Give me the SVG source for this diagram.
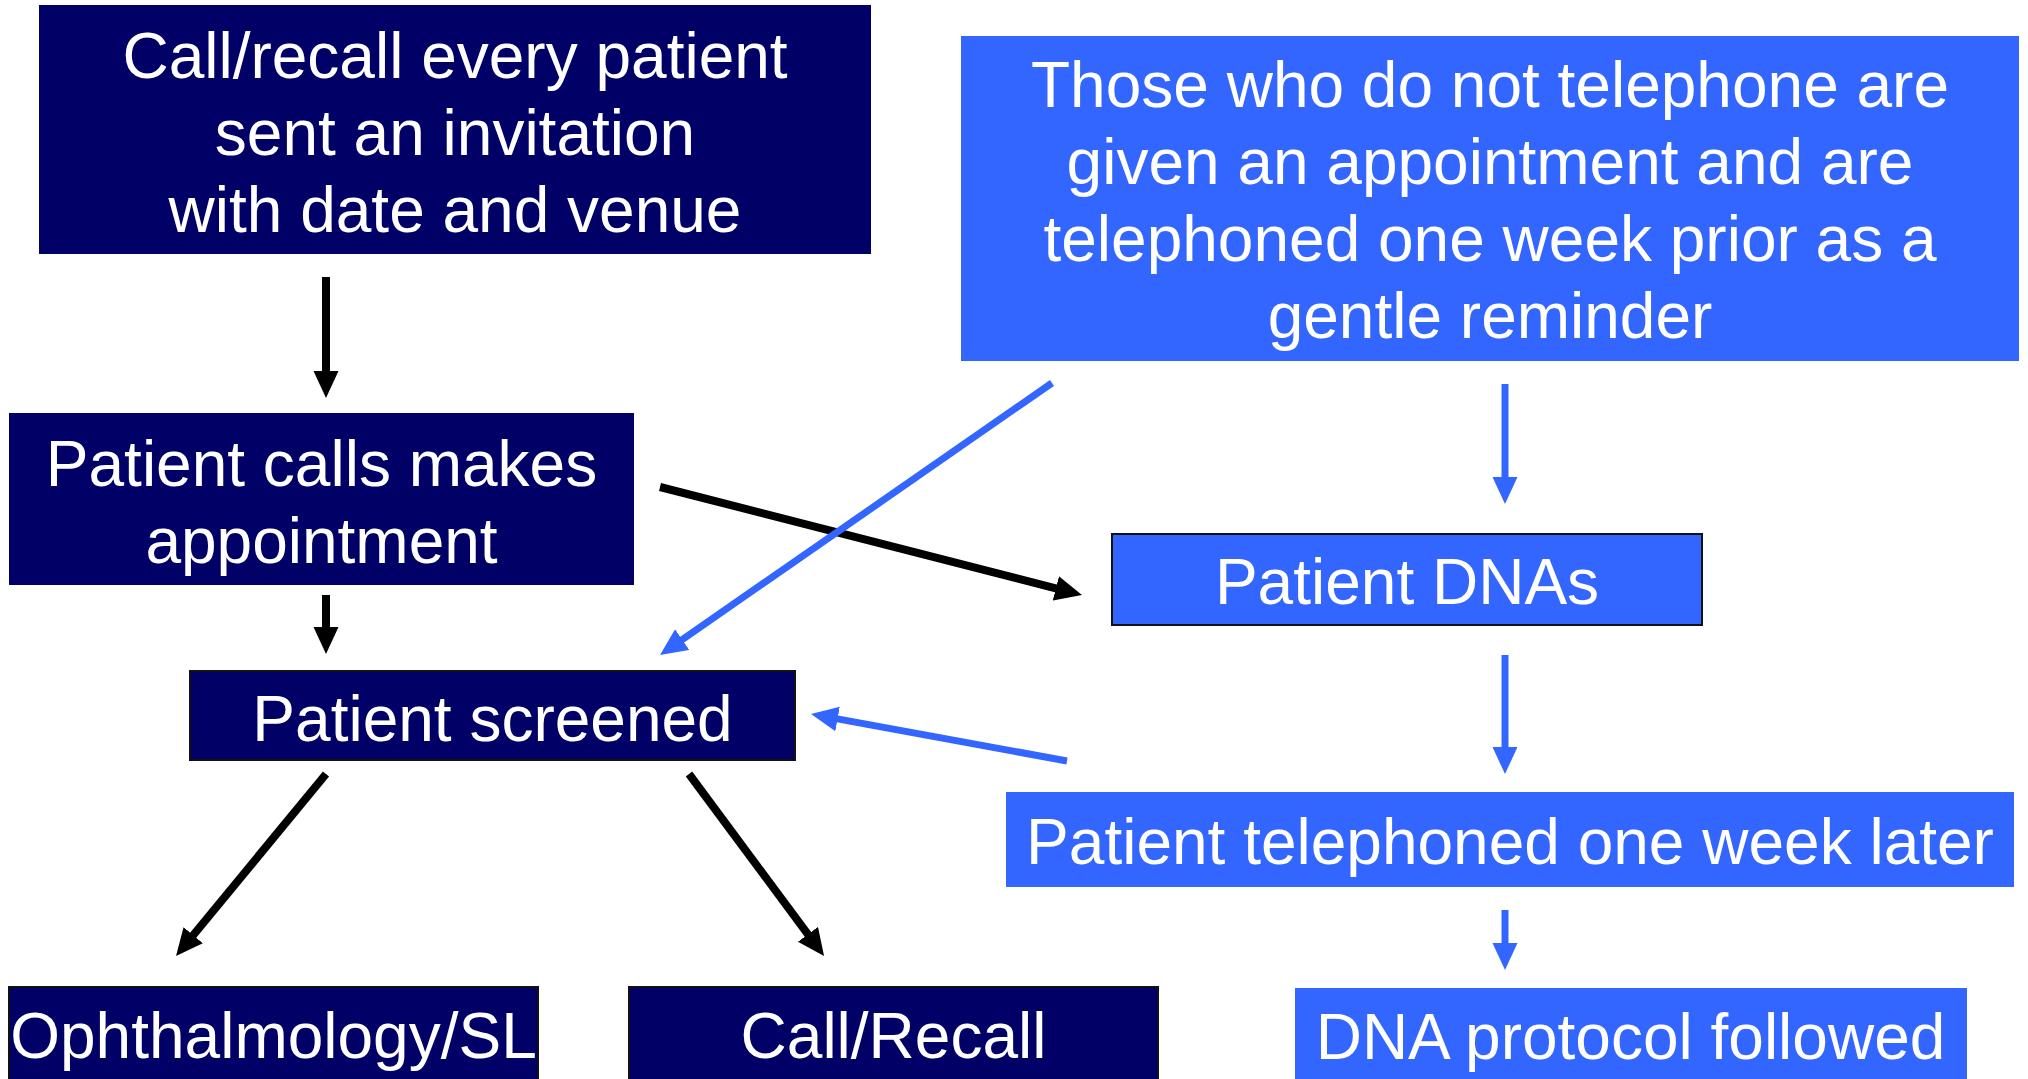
<svg xmlns="http://www.w3.org/2000/svg" width="2028" height="1079" viewBox="0 0 2028 1079">
<style>
.navy{fill:#000066}
.blue{fill:#3366FF}
.bd{stroke:#111;stroke-width:2}
.t{font-family:"Liberation Sans",Arial,sans-serif;font-size:64px;fill:#fff;text-anchor:middle}
.ck{stroke:#000;stroke-width:8;fill:none}
.cb{stroke:#3366FF;stroke-width:7;fill:none}
</style>
<defs>
<marker id="ak" markerUnits="userSpaceOnUse" markerWidth="28" markerHeight="26" refX="14" refY="12.5" orient="auto"><path d="M0,0 L27,12.5 L0,25 z" fill="#000"/></marker>
<marker id="ab" markerUnits="userSpaceOnUse" markerWidth="28" markerHeight="26" refX="14" refY="12.5" orient="auto"><path d="M0,0 L27,12.5 L0,25 z" fill="#3366FF"/></marker>
</defs>
<rect width="2028" height="1079" fill="#fff"/>
<g id="connectors">
<line class="ck" x1="326" y1="277" x2="326" y2="385" marker-end="url(#ak)"/>
<line class="ck" x1="326" y1="595" x2="326" y2="641" marker-end="url(#ak)"/>
<line class="ck" x1="660" y1="487" x2="1069.4" y2="591.8" marker-end="url(#ak)"/>
<line class="cb" x1="1052" y1="383" x2="670.7" y2="647.6" marker-end="url(#ab)"/>
<line class="cb" x1="1505" y1="384" x2="1505" y2="491" marker-end="url(#ab)"/>
<line class="cb" x1="1067" y1="761" x2="823.8" y2="716.4" marker-end="url(#ab)"/>
<line class="cb" x1="1505" y1="655" x2="1505" y2="761" marker-end="url(#ab)"/>
<line class="cb" x1="1505" y1="910" x2="1505" y2="957" marker-end="url(#ab)"/>
<line class="ck" x1="326" y1="774" x2="184.3" y2="946" marker-end="url(#ak)"/>
<line class="ck" x1="689" y1="774" x2="816.3" y2="945.6" marker-end="url(#ak)"/>
</g>
<g id="n-callrecall-invite">
<rect class="navy" x="39" y="5" width="832" height="249"/>
<text class="t" x="455" y="78">Call/recall every patient</text>
<text class="t" x="455" y="155">sent an invitation</text>
<text class="t" x="455" y="232">with date and venue</text>
</g>
<g id="n-those">
<rect class="blue" x="961" y="36" width="1058" height="325"/>
<text class="t" x="1490" y="107">Those who do not telephone are</text>
<text class="t" x="1490" y="184">given an appointment and are</text>
<text class="t" x="1490" y="261">telephoned one week prior as a</text>
<text class="t" x="1490" y="338">gentle reminder</text>
</g>
<g id="n-calls">
<rect class="navy" x="9" y="413" width="625" height="172"/>
<text class="t" x="321.5" y="486">Patient calls makes</text>
<text class="t" x="321.5" y="563">appointment</text>
</g>
<g id="n-dnas">
<rect class="blue bd" x="1112" y="534" width="590" height="91"/>
<text class="t" x="1407" y="604">Patient DNAs</text>
</g>
<g id="n-screened">
<rect class="navy bd" x="190" y="671" width="605" height="89"/>
<text class="t" x="492.5" y="741">Patient screened</text>
</g>
<g id="n-telephoned">
<rect class="blue" x="1006" y="792" width="1008" height="95"/>
<text class="t" x="1510" y="864">Patient telephoned one week later</text>
</g>
<g id="n-ophth">
<rect class="navy bd" x="9" y="987" width="529" height="100"/>
<text class="t" x="273.5" y="1058">Ophthalmology/SL</text>
</g>
<g id="n-callrecall">
<rect class="navy bd" x="629" y="987" width="529" height="100"/>
<text class="t" x="893.5" y="1058">Call/Recall</text>
</g>
<g id="n-protocol">
<rect class="blue" x="1295" y="988" width="672" height="100"/>
<text class="t" x="1630.5" y="1059">DNA protocol followed</text>
</g>
</svg>
